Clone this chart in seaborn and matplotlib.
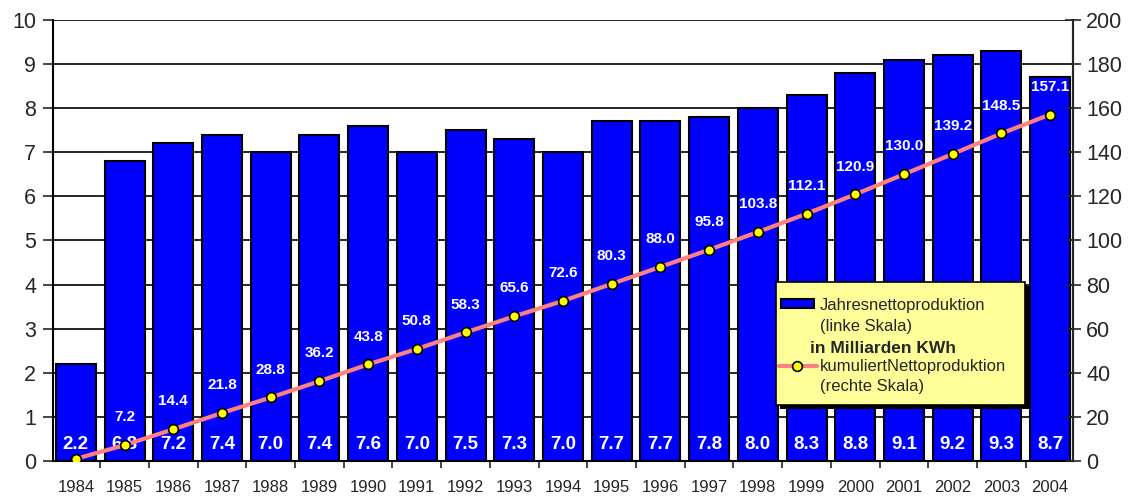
import numpy as np
import pandas as pd
import matplotlib
matplotlib.use("Agg")
import matplotlib.pyplot as plt
from matplotlib.patches import Rectangle
from matplotlib.lines import Line2D
import seaborn as sns

# data
years = [str(y) for y in range(1984, 2005)]
yearly = [2.2, 6.8, 7.2, 7.4, 7.0, 7.4, 7.6, 7.0, 7.5, 7.3, 7.0,
          7.7, 7.7, 7.8, 8.0, 8.3, 8.8, 9.1, 9.2, 9.3, 8.7]
cumulative = [1.0, 7.2, 14.4, 21.8, 28.8, 36.2, 43.8, 50.8, 58.3, 65.6, 72.6,
              80.3, 88.0, 95.8, 103.8, 112.1, 120.9, 130.0, 139.2, 148.5, 157.1]
cum_labels = [None, "7.2", "14.4", "21.8", "28.8", "36.2", "43.8", "50.8", "58.3",
              "65.6", "72.6", "80.3", "88.0", "95.8", "103.8", "112.1", "120.9",
              "130.0", "139.2", "148.5", "157.1"]

df = pd.DataFrame({"Jahr": years, "Jahres": yearly, "Kumuliert": cumulative})
df["pos"] = np.arange(len(df))

sns.set_style("white")
plt.rcParams['font.family'] = ['Liberation Sans', 'DejaVu Sans']

fig = plt.figure(figsize=(11.34, 4.97), dpi=100)
ax = fig.add_axes([0.0467, 0.0724, 0.8995, 0.8876])

# bars (left scale)
sns.barplot(data=df, x="Jahr", y="Jahres", color="#0000FF", saturation=1,
            edgecolor="black", linewidth=1.5, width=0.82, ax=ax, zorder=3)
ax.set_xlim(-0.47, 20.47)
ax.set_ylim(0, 10)
ax.set_yticks(range(0, 11))
ax.yaxis.grid(True, color="black", linewidth=1.2)
ax.set_axisbelow(True)
ax.set_xlabel("")
ax.set_ylabel("")
ax.tick_params(axis="y", labelsize=15.5, direction="out", length=7, width=1.2, left=True, pad=5)
ax.set_xticks(np.arange(-0.5, 21, 1), minor=True)
ax.tick_params(axis="x", which="minor", direction="out", length=5, width=1.2, bottom=True)
ax.tick_params(axis="x", which="major", length=0, labelsize=12, pad=14)
for s in ["left", "bottom", "right"]:
    ax.spines[s].set_color("black")
    ax.spines[s].set_linewidth(1.5)
ax.spines["top"].set_visible(False)

for i, v in enumerate(yearly):
    ax.text(i, 0.38, f"{v:.1f}", color="white", fontweight="bold", fontsize=13.5,
            ha="center", va="center", zorder=6)

# cumulative line (right scale)
ax2 = ax.twinx()
sns.lineplot(data=df, x="pos", y="Kumuliert", color="#FF8080", linewidth=3,
             marker="o", markersize=7, markerfacecolor="#FFFF00",
             markeredgecolor="black", markeredgewidth=1.2, ax=ax2, zorder=5)
ax2.set_ylim(0, 200)
ax2.set_yticks(range(0, 201, 20))
ax2.set_xlim(-0.47, 20.47)
ax2.set_ylabel("")
ax2.tick_params(axis="y", labelsize=15.5, direction="inout", length=12, width=1.2, right=True)
for s in ["left", "bottom", "top"]:
    ax2.spines[s].set_visible(False)
ax2.spines["right"].set_linewidth(1.5)

for i, lab in enumerate(cum_labels):
    if lab is None:
        continue
    ax2.annotate(lab, (i, cumulative[i]), xytext=(0, 15), textcoords="offset points",
                 ha="center", va="bottom", color="white", fontweight="bold",
                 fontsize=11, zorder=6)

# legend box drawn by hand
lx0, ly0, lw, lh = 0.709, 0.127, 0.244, 0.279
ax2.add_patch(Rectangle((lx0 + 0.004, ly0 - 0.01), lw, lh, transform=ax2.transAxes,
                        facecolor="black", edgecolor="none", zorder=7, clip_on=False))
ax2.add_patch(Rectangle((lx0, ly0), lw, lh, transform=ax2.transAxes,
                        facecolor="#FFFF99", edgecolor="black", linewidth=1.2,
                        zorder=8, clip_on=False))
ax2.add_patch(Rectangle((lx0 + 0.005, ly0 + 0.220), 0.032, 0.020, transform=ax2.transAxes,
                        facecolor="#0000FF", edgecolor="black", linewidth=1.5,
                        zorder=9, clip_on=False))
ax2.text(lx0 + 0.043, ly0 + 0.2245, "Jahresnettoproduktion", transform=ax2.transAxes,
         fontsize=12, va="center", ha="left", zorder=9)
ax2.text(lx0 + 0.043, ly0 + 0.179, "(linke Skala)", transform=ax2.transAxes,
         fontsize=12, va="center", ha="left", zorder=9)
ax2.text(lx0 + 0.033, ly0 + 0.127, "in Milliarden KWh", transform=ax2.transAxes,
         fontsize=12.5, fontweight="bold", va="center", ha="left", zorder=9)
ax2.add_line(Line2D([lx0 + 0.003, lx0 + 0.040], [ly0 + 0.088, ly0 + 0.088],
                    transform=ax2.transAxes, color="#FF8080", linewidth=3, zorder=9,
                    clip_on=False))
ax2.add_line(Line2D([lx0 + 0.020], [ly0 + 0.088], transform=ax2.transAxes,
                    marker="o", markersize=7, markerfacecolor="#FFFF00",
                    markeredgecolor="black", markeredgewidth=1.2, zorder=10, clip_on=False))
ax2.text(lx0 + 0.043, ly0 + 0.088, "kumuliertNettoproduktion", transform=ax2.transAxes,
         fontsize=12, va="center", ha="left", zorder=9)
ax2.text(lx0 + 0.043, ly0 + 0.043, "(rechte Skala)", transform=ax2.transAxes,
         fontsize=12, va="center", ha="left", zorder=9)

fig.savefig("out.png", dpi=100)
